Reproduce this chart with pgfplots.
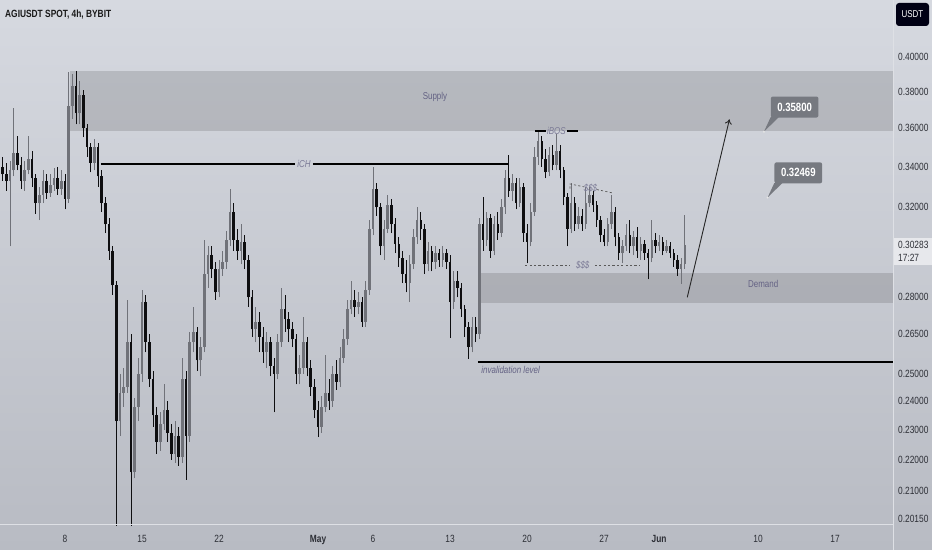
\documentclass[border=0pt]{standalone}
\usepackage{pgfplots}
\pgfplotsset{compat=1.18}
\usepackage{pgfplotstable}
\usepackage{fontspec}
\setmainfont{Liberation Sans}[FakeStretch=0.8]
\usetikzlibrary{arrows.meta}

\definecolor{bgtop}{RGB}{214,217,224}
\definecolor{bgbot}{RGB}{184,187,195}
\definecolor{upc}{RGB}{112,114,121}
\definecolor{dnc}{RGB}{14,14,16}
\definecolor{lbl}{RGB}{45,47,54}
\definecolor{zonetxt}{RGB}{100,98,132}
\definecolor{callc}{RGB}{118,121,128}
\definecolor{sepc}{RGB}{222,224,229}

% 8h candles, i = candle index (i=17 -> Apr 8), columns: open high low close
\pgfplotstableread{
i o h l c
0 0.340 0.345 0.333 0.336
1 0.336 0.342 0.328 0.333
2 0.333 0.343 0.302 0.338
3 0.338 0.371 0.335 0.347
4 0.347 0.356 0.338 0.341
5 0.341 0.345 0.329 0.333
6 0.333 0.343 0.328 0.338
7 0.338 0.356 0.336 0.344
8 0.344 0.348 0.330 0.334
9 0.334 0.336 0.317 0.322
10 0.322 0.330 0.314 0.326
11 0.326 0.338 0.322 0.333
12 0.333 0.336 0.324 0.327
13 0.327 0.336 0.325 0.331
14 0.331 0.339 0.328 0.334
15 0.334 0.340 0.326 0.329
16 0.329 0.338 0.326 0.333
17 0.333 0.336 0.319 0.324
18 0.324 0.391 0.322 0.372
19 0.372 0.390 0.365 0.383
20 0.383 0.392 0.362 0.368
21 0.368 0.386 0.362 0.378
22 0.378 0.381 0.355 0.360
23 0.360 0.362 0.345 0.350
24 0.350 0.352 0.337 0.342
25 0.342 0.354 0.338 0.350
26 0.350 0.352 0.330 0.335
27 0.335 0.338 0.318 0.322
28 0.322 0.325 0.308 0.312
29 0.312 0.315 0.296 0.300
30 0.300 0.302 0.281 0.285
31 0.285 0.287 0.198 0.233
32 0.233 0.250 0.228 0.243
33 0.243 0.252 0.238 0.245
34 0.245 0.279 0.243 0.262
35 0.262 0.265 0.198 0.216
36 0.216 0.241 0.214 0.238
37 0.238 0.256 0.233 0.250
38 0.250 0.283 0.247 0.278
39 0.278 0.281 0.258 0.262
40 0.262 0.265 0.245 0.248
41 0.248 0.251 0.231 0.235
42 0.235 0.238 0.222 0.226
43 0.226 0.236 0.223 0.232
44 0.232 0.246 0.230 0.237
45 0.237 0.240 0.226 0.229
46 0.229 0.232 0.220 0.222
47 0.222 0.233 0.219 0.228
48 0.228 0.231 0.218 0.221
49 0.221 0.256 0.219 0.248
50 0.248 0.251 0.2135 0.228
51 0.228 0.266 0.226 0.262
52 0.262 0.276 0.258 0.266
53 0.266 0.268 0.251 0.255
54 0.255 0.264 0.249 0.260
55 0.260 0.305 0.258 0.290
56 0.290 0.302 0.284 0.298
57 0.298 0.302 0.288 0.292
58 0.292 0.295 0.279 0.282
59 0.282 0.296 0.280 0.292
60 0.292 0.300 0.289 0.295
61 0.295 0.309 0.292 0.305
62 0.305 0.329 0.302 0.318
63 0.318 0.322 0.300 0.305
64 0.305 0.310 0.296 0.300
65 0.300 0.312 0.294 0.304
66 0.304 0.307 0.292 0.296
67 0.296 0.298 0.276 0.280
68 0.280 0.283 0.264 0.267
69 0.267 0.276 0.262 0.270
70 0.270 0.274 0.258 0.264
71 0.264 0.268 0.254 0.258
72 0.258 0.266 0.252 0.262
73 0.262 0.264 0.249 0.253
74 0.253 0.256 0.236 0.250
75 0.250 0.265 0.248 0.262
76 0.262 0.284 0.260 0.275
77 0.275 0.281 0.266 0.271
78 0.271 0.274 0.262 0.267
79 0.267 0.270 0.260 0.263
80 0.263 0.265 0.246 0.250
81 0.250 0.257 0.246 0.252
82 0.252 0.272 0.250 0.262
83 0.262 0.264 0.249 0.252
84 0.252 0.255 0.242 0.245
85 0.245 0.248 0.234 0.237
86 0.237 0.240 0.2275 0.231
87 0.231 0.242 0.229 0.238
88 0.238 0.257 0.236 0.243
89 0.243 0.248 0.237 0.240
90 0.240 0.253 0.238 0.250
91 0.250 0.255 0.244 0.247
92 0.247 0.260 0.245 0.256
93 0.256 0.267 0.254 0.263
94 0.263 0.279 0.261 0.275
95 0.275 0.287 0.273 0.279
96 0.279 0.283 0.272 0.276
97 0.276 0.282 0.273 0.278
98 0.278 0.280 0.268 0.270
99 0.270 0.287 0.268 0.283
100 0.283 0.314 0.281 0.310
101 0.310 0.340 0.307 0.329
102 0.329 0.332 0.316 0.320
103 0.320 0.322 0.298 0.302
104 0.302 0.314 0.296 0.310
105 0.310 0.326 0.308 0.321
106 0.321 0.324 0.308 0.312
107 0.312 0.315 0.299 0.303
108 0.303 0.306 0.293 0.297
109 0.297 0.300 0.286 0.290
110 0.290 0.296 0.282 0.286
111 0.286 0.298 0.278 0.294
112 0.294 0.310 0.292 0.306
113 0.306 0.320 0.303 0.314
114 0.314 0.318 0.305 0.310
115 0.310 0.312 0.290 0.294
116 0.294 0.304 0.291 0.300
117 0.300 0.302 0.291 0.295
118 0.295 0.302 0.292 0.299
119 0.299 0.301 0.293 0.296
120 0.296 0.302 0.293 0.299
121 0.299 0.301 0.292 0.295
122 0.295 0.298 0.2635 0.278
123 0.278 0.291 0.275 0.287
124 0.287 0.291 0.280 0.284
125 0.284 0.286 0.272 0.275
126 0.275 0.277 0.264 0.268
127 0.268 0.270 0.2555 0.260
128 0.260 0.272 0.258 0.268
129 0.268 0.272 0.262 0.265
130 0.265 0.315 0.263 0.312
131 0.312 0.325 0.300 0.305
132 0.305 0.318 0.302 0.315
133 0.315 0.317 0.297 0.300
134 0.300 0.316 0.298 0.312
135 0.312 0.318 0.305 0.308
136 0.308 0.324 0.306 0.320
137 0.320 0.338 0.317 0.334
138 0.334 0.346 0.325 0.328
139 0.328 0.336 0.323 0.332
140 0.332 0.334 0.319 0.322
141 0.322 0.334 0.320 0.330
142 0.330 0.332 0.304 0.308
143 0.308 0.312 0.2945 0.304
144 0.304 0.322 0.302 0.318
145 0.318 0.350 0.316 0.345
146 0.345 0.359 0.341 0.353
147 0.353 0.356 0.340 0.344
148 0.344 0.349 0.334 0.337
149 0.337 0.350 0.335 0.346
150 0.346 0.351 0.338 0.341
151 0.341 0.357 0.338 0.348
152 0.348 0.351 0.334 0.338
153 0.338 0.340 0.321 0.325
154 0.325 0.327 0.302 0.310
155 0.310 0.332 0.308 0.322
156 0.322 0.325 0.309 0.312
157 0.312 0.320 0.310 0.316
158 0.316 0.319 0.309 0.312
159 0.312 0.330 0.310 0.322
160 0.322 0.330 0.320 0.326
161 0.326 0.328 0.318 0.321
162 0.321 0.323 0.311 0.314
163 0.314 0.316 0.304 0.307
164 0.307 0.310 0.302 0.304
165 0.304 0.315 0.302 0.312
166 0.312 0.326 0.310 0.318
167 0.318 0.320 0.302 0.306
168 0.306 0.308 0.296 0.299
169 0.299 0.305 0.2945 0.302
170 0.302 0.312 0.300 0.307
171 0.307 0.314 0.299 0.302
172 0.302 0.309 0.298 0.306
173 0.306 0.311 0.297 0.300
174 0.300 0.306 0.296 0.303
175 0.303 0.305 0.296 0.299
176 0.299 0.301 0.2875 0.297
177 0.297 0.314 0.295 0.305
178 0.305 0.308 0.299 0.302
179 0.302 0.307 0.300 0.304
180 0.304 0.306 0.298 0.300
181 0.300 0.305 0.299 0.302
182 0.302 0.304 0.297 0.299
183 0.299 0.301 0.293 0.296
184 0.296 0.298 0.289 0.292
185 0.292 0.297 0.2855 0.294
186 0.294 0.3165 0.292 0.30283
}\candles

\begin{document}
\begin{tikzpicture}
\shade[top color=bgtop, bottom color=bgbot] (0,0) rectangle (932bp,550bp);

\begin{axis}[
  at={(0,25bp)}, anchor=south west,
  scale only axis, width=893bp, height=525bp,
  xmin=-0.727, xmax=242.8,
  ymode=log, ymin=0.19969, ymax=0.43532,
  axis line style={draw=none},
  major tick length=0pt,
  xtick={17,38,59,86,101,122,143,164,179,206,227},
  xticklabels={8,15,22,\textbf{May},6,13,20,27,\textbf{Jun},10,17},
  xticklabel style={anchor=base, inner sep=0pt, yshift=-17bp, text=lbl,
    font=\fontsize{10.5}{12}\selectfont},
  ytick={0.2015,0.21,0.22,0.23,0.24,0.25,0.265,0.28,0.32,0.34,0.36,0.38,0.40},
  yticklabels={0.20150,0.21000,0.22000,0.23000,0.24000,0.25000,0.26500,
    0.28000,0.32000,0.34000,0.36000,0.38000,0.40000},
  yticklabel pos=right,
  yticklabel style={anchor=west, inner sep=0pt, xshift=5bp, text=lbl,
    font=\fontsize{10.5}{12}\selectfont},
  candle/.style={draw=none, mark=none, error bars/.cd, y dir=plus, y explicit,
    error mark=none},
]
% zones
\fill[black, opacity=0.13] (axis cs:18.36,0.3584) rectangle (axis cs:242.8,0.3918);
\fill[black, opacity=0.13] (axis cs:129.6,0.2776) rectangle (axis cs:242.8,0.2903);
\node[text=zonetxt, font=\fontsize{10}{12}\selectfont] at (axis cs:117.9,0.3769) {Supply};
\node[text=zonetxt, font=\fontsize{10}{12}\selectfont] at (axis cs:207.4,0.2856) {Demand};

% wicks
\addplot[candle, error bar style={draw=upc, line width=0.9bp}]
  table[x=i, y expr={\thisrow{c}>=\thisrow{o} ? \thisrow{l} : nan},
        y error plus expr={\thisrow{h}-\thisrow{l}}] {\candles};
\addplot[candle, error bar style={draw=dnc, line width=0.9bp}]
  table[x=i, y expr={\thisrow{c}<\thisrow{o} ? \thisrow{l} : nan},
        y error plus expr={\thisrow{h}-\thisrow{l}}] {\candles};
% bodies
\addplot[candle, error bar style={draw=upc, line width=2.4bp}]
  table[x=i, y expr={\thisrow{c}>=\thisrow{o} ? \thisrow{o} : nan},
        y error plus expr={max(\thisrow{c}-\thisrow{o},0.0008)}] {\candles};
\addplot[candle, error bar style={draw=dnc, line width=2.4bp}]
  table[x=i, y expr={\thisrow{c}<\thisrow{o} ? \thisrow{c} : nan},
        y error plus expr={max(\thisrow{o}-\thisrow{c},0.0008)}] {\candles};

% structure lines
\draw[line width=1.4bp, black] (axis cs:26.8,0.3412) -- (axis cs:79.7,0.3412);
\draw[line width=1.4bp, black] (axis cs:84.6,0.3412) -- (axis cs:137.8,0.3412);
\node[text=zonetxt!85, font=\itshape\fontsize{10}{12}\selectfont] at (axis cs:82.2,0.3412) {iCH};
\draw[line width=1.4bp, black] (axis cs:145.2,0.3584) -- (axis cs:148.2,0.3584);
\draw[line width=1.4bp, black] (axis cs:153.9,0.3584) -- (axis cs:156.9,0.3584);
\node[text=zonetxt!85, font=\itshape\fontsize{10}{12}\selectfont] at (axis cs:151,0.3584) {iBOS};
\draw[line width=1.4bp, black] (axis cs:129.6,0.2543) -- (axis cs:242.8,0.2543);
\node[anchor=west, inner sep=0pt, text=zonetxt, font=\itshape\fontsize{10}{12}\selectfont]
  at (axis cs:130.5,0.2515) {invalidation level};
% liquidity
\draw[line width=0.7bp, black!65, dash pattern=on 2.2bp off 2.2bp]
  (axis cs:142.5,0.2935) -- (axis cs:154.7,0.2935)
  (axis cs:161.5,0.2935) -- (axis cs:173.8,0.2935);
\node[text=zonetxt!85, font=\itshape\fontsize{10}{12}\selectfont] at (axis cs:158.2,0.2935) {\$\$\$};
\draw[line width=0.7bp, black!65, dash pattern=on 2.2bp off 2.2bp]
  (axis cs:154.7,0.3290) -- (axis cs:154.7,0.3313) -- (axis cs:158.5,0.3299)
  (axis cs:162.0,0.3286) -- (axis cs:166.4,0.3269);
\node[text=zonetxt!85, font=\itshape\fontsize{10}{12}\selectfont] at (axis cs:160.3,0.3293) {\$\$\$};

% projection arrow
\draw[line width=0.9bp, black!85, -{To[length=5bp,width=7bp]}]
  (axis cs:186.7,0.2800) -- (axis cs:198.2,0.3647);

\coordinate (tipA) at (axis cs:207.6,0.3580);
\coordinate (tipB) at (axis cs:208.6,0.3247);
\end{axis}

% callouts
\fill[callc] (tipA) -- ([shift={(6.7bp,14.5bp)}]tipA) -- ([shift={(14.7bp,14.5bp)}]tipA) -- cycle;
\node[fill=callc, rounded corners=2bp, anchor=south west, inner sep=0pt,
  minimum width=47.6bp, minimum height=21bp, text=white,
  font=\bfseries\fontsize{12}{14}\selectfont] at ([shift={(6.7bp,14bp)}]tipA) {0.35800};
\fill[white!80!gray] (tipA) circle (1.1bp);
\fill[callc] (tipB) -- ([shift={(6.7bp,14.5bp)}]tipB) -- ([shift={(14.7bp,14.5bp)}]tipB) -- cycle;
\node[fill=callc, rounded corners=2bp, anchor=south west, inner sep=0pt,
  minimum width=47.6bp, minimum height=21bp, text=white,
  font=\bfseries\fontsize{12}{14}\selectfont] at ([shift={(6.7bp,14bp)}]tipB) {0.32469};
\fill[white!80!gray] (tipB) circle (1.1bp);

% panel separators
\draw[sepc, line width=1bp] (893.5bp,0) -- (893.5bp,550bp);
\draw[sepc, line width=1bp] (0,25bp) -- (893.5bp,25bp);

% header and price-scale labels
\node[anchor=west, inner sep=0pt, text=black!90, font=\bfseries\fontsize{10.5}{12}\selectfont]
  at (5bp,535bp) {AGIUSDT SPOT, 4h, BYBIT};
\fill[black!92!blue, rounded corners=3bp] (896bp,524bp) rectangle (929bp,547bp);
\node[text=white, font=\fontsize{10}{12}\selectfont] at (912.5bp,535.5bp) {USDT};
\fill[white!40!bgtop] (894bp,285bp) rectangle (932bp,312bp);
\node[anchor=west, inner sep=0pt, text=lbl, font=\fontsize{10.5}{12}\selectfont] at (898bp,305bp) {0.30283};
\node[anchor=west, inner sep=0pt, text=lbl, font=\fontsize{10.5}{12}\selectfont] at (898bp,292bp) {17:27};

\pgfresetboundingbox
\useasboundingbox (0,0) rectangle (932bp,550bp);
\end{tikzpicture}
\end{document}
